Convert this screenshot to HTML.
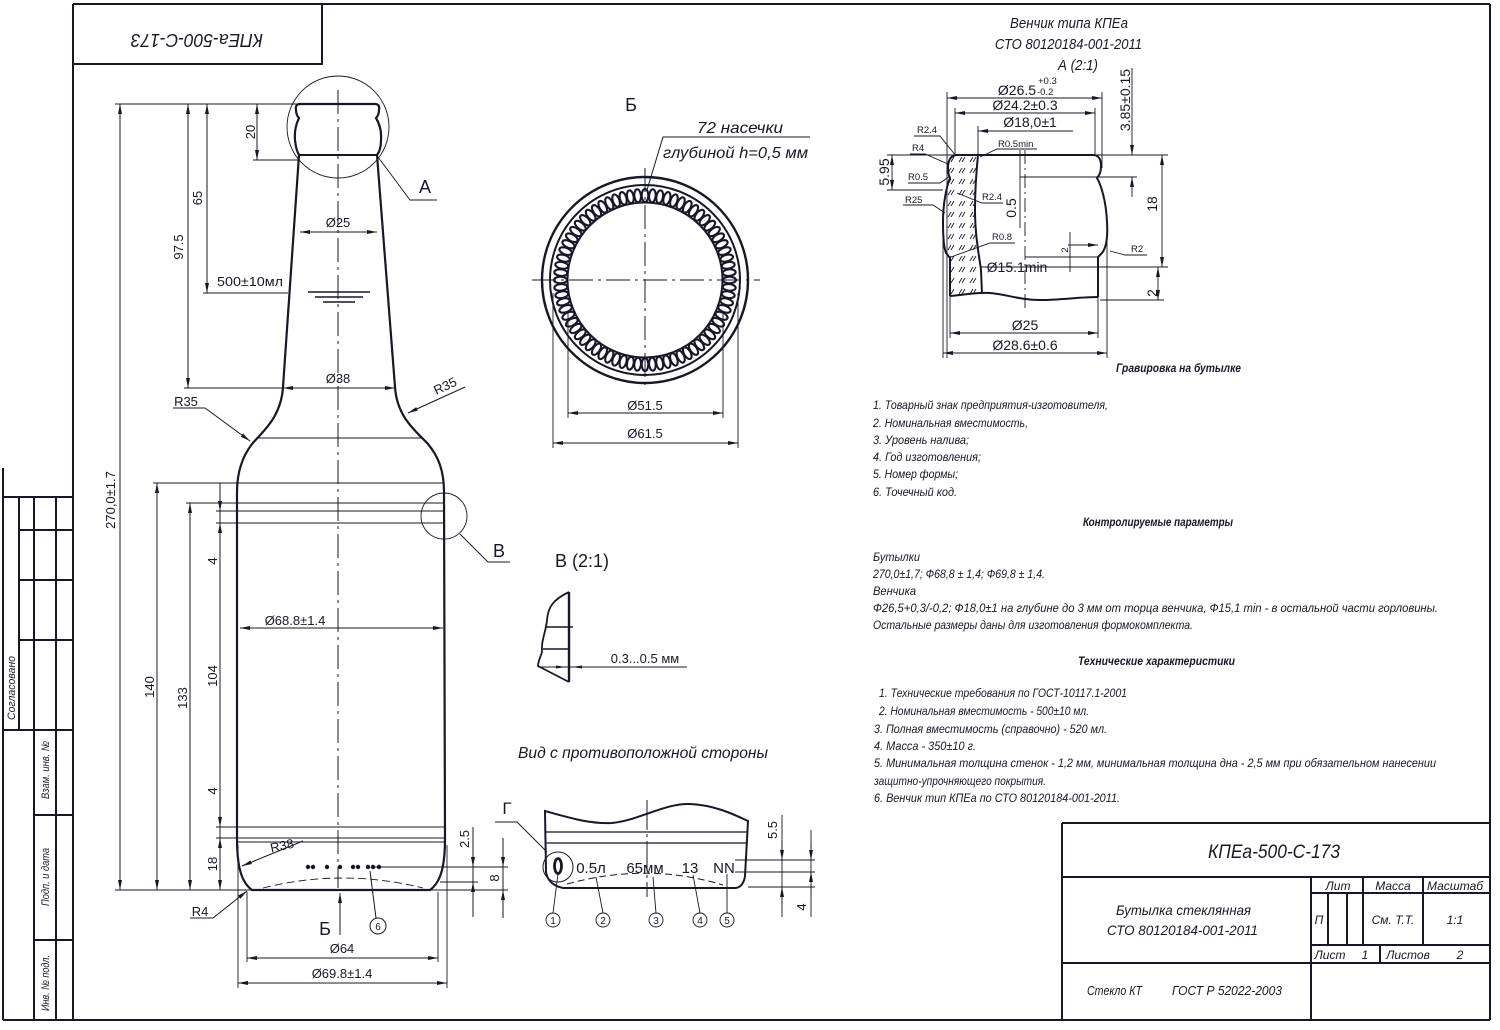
<!DOCTYPE html>
<html><head><meta charset="utf-8">
<style>
html,body{margin:0;padding:0;background:#fff;}
svg{display:block;}
.t{font-family:"Liberation Sans","DejaVu Sans",sans-serif;fill:#17172a;}
.i{font-family:"Liberation Sans","DejaVu Sans",sans-serif;font-style:italic;fill:#17172a;}
</style></head><body>
<svg width="1500" height="1030" viewBox="0 0 1500 1030" xmlns="http://www.w3.org/2000/svg">
<defs>
<marker id="ar" viewBox="0 0 10 4" refX="10" refY="2" markerWidth="10" markerHeight="4" markerUnits="userSpaceOnUse" orient="auto-start-reverse"><path d="M0,0 L10,2 L0,4 Z" fill="#17172a"/></marker>
<pattern id="h" width="11" height="11" patternUnits="userSpaceOnUse"><path d="M2 8 L5 3 M5 8 L8 3" stroke="#17172a" stroke-width="0.9" fill="none"/></pattern>
</defs>
<rect width="1500" height="1030" fill="#fff"/>

<!-- FRAME -->
<g stroke="#17172a" fill="none" stroke-width="2">
<line x1="73" y1="4" x2="1490" y2="4"/>
<line x1="1490" y1="4" x2="1490" y2="1020"/>
<line x1="73" y1="4" x2="73" y2="1020"/>
<line x1="3" y1="1020" x2="1490" y2="1020"/>
<polyline points="73,64 322,64 322,4"/>
<line x1="3" y1="468" x2="3" y2="1020"/>
<line x1="3" y1="497" x2="73" y2="497"/>
<line x1="19" y1="497" x2="19" y2="730"/>
<line x1="34" y1="497" x2="34" y2="1020"/>
<line x1="56" y1="497" x2="56" y2="1020"/>
<line x1="19" y1="530" x2="73" y2="530"/>
<line x1="19" y1="580" x2="73" y2="580"/>
<line x1="19" y1="640" x2="73" y2="640"/>
<line x1="3" y1="730" x2="73" y2="730"/>
<line x1="34" y1="815" x2="73" y2="815"/>
<line x1="34" y1="940" x2="73" y2="940"/>
<line x1="1062" y1="823" x2="1490" y2="823"/>
<line x1="1062" y1="823" x2="1062" y2="1020"/>
<line x1="1062" y1="877" x2="1490" y2="877"/>
<line x1="1311" y1="877" x2="1311" y2="1020"/>
<line x1="1062" y1="963" x2="1490" y2="963"/>
<line x1="1311" y1="893" x2="1490" y2="893"/>
<line x1="1311" y1="945" x2="1490" y2="945"/>
<line x1="1328" y1="893" x2="1328" y2="945"/>
<line x1="1347" y1="893" x2="1347" y2="945"/>
<line x1="1363" y1="877" x2="1363" y2="945"/>
<line x1="1423" y1="877" x2="1423" y2="945"/>
<line x1="1380" y1="945" x2="1380" y2="963"/>
</g>

<text class="i" font-size="18" text-anchor="middle" transform="rotate(180 197 40)" x="197" y="46" textLength="132" lengthAdjust="spacingAndGlyphs">КПЕа-500-С-173</text>
<text class="i" font-size="11" text-anchor="middle" transform="translate(15,688) rotate(-90)" textLength="64" lengthAdjust="spacingAndGlyphs">Согласовано</text>
<text class="i" font-size="11" text-anchor="middle" transform="translate(49,770) rotate(-90)" textLength="58" lengthAdjust="spacingAndGlyphs">Взам. инв. №</text>
<text class="i" font-size="11" text-anchor="middle" transform="translate(49,877) rotate(-90)" textLength="58" lengthAdjust="spacingAndGlyphs">Подп. и дата</text>
<text class="i" font-size="11" text-anchor="middle" transform="translate(49,983) rotate(-90)" textLength="56" lengthAdjust="spacingAndGlyphs">Инв. № подл.</text>

<text class="i" font-size="19" x="1208" y="858" textLength="132" lengthAdjust="spacingAndGlyphs">КПЕа-500-С-173</text>
<text class="i" font-size="14" x="1116" y="915" textLength="135" lengthAdjust="spacingAndGlyphs">Бутылка стеклянная</text>
<text class="i" font-size="14" x="1107" y="935" textLength="151" lengthAdjust="spacingAndGlyphs">СТО 80120184-001-2011</text>
<text class="i" font-size="13" x="1087" y="995" textLength="55" lengthAdjust="spacingAndGlyphs">Стекло КТ</text>
<text class="i" font-size="13" x="1172" y="995" textLength="110" lengthAdjust="spacingAndGlyphs">ГОСТ Р 52022-2003</text>
<text class="i" font-size="12" x="1338" y="890" text-anchor="middle">Лит</text>
<text class="i" font-size="12" x="1393" y="890" text-anchor="middle">Масса</text>
<text class="i" font-size="12" x="1455" y="890" text-anchor="middle">Масштаб</text>
<text class="i" font-size="12" x="1319" y="924" text-anchor="middle">П</text>
<text class="i" font-size="12" x="1393" y="924" text-anchor="middle">См. Т.Т.</text>
<text class="i" font-size="12" x="1455" y="924" text-anchor="middle">1:1</text>
<text class="i" font-size="12" x="1330" y="959" text-anchor="middle">Лист</text>
<text class="i" font-size="12" x="1365" y="959" text-anchor="middle">1</text>
<text class="i" font-size="12" x="1408" y="959" text-anchor="middle">Листов</text>
<text class="i" font-size="12" x="1460" y="959" text-anchor="middle">2</text>

<!-- BOTTLE -->
<g stroke="#17172a" fill="none" stroke-width="2.2">
<path d="M 338 104 L 300 104 Q 295 104 296 110 Q 296 115 299 118 Q 294 128 295 140 Q 296 150 299 155 L 283 387 C 281 418 262 432 252 444 C 242 457 237 472 237 492 L 237 838 C 237 866 241 882 252 890 L 430 890 C 441 882 445 866 445 838 L 444 492 C 444 470 438 456 428 444 C 417 432 397 418 395 387 L 377 155 Q 381 150 381 140 Q 382 128 376 118 Q 379 115 379 110 Q 380 104 375 104 Z"/>
<line x1="299" y1="155" x2="377" y2="155" stroke-width="2"/>
</g>
<g stroke="#17172a" fill="none" stroke-width="0.9">
<line x1="256" y1="438" x2="421" y2="438"/>
<line x1="153" y1="483" x2="444" y2="483"/>
<line x1="186" y1="503" x2="444" y2="503"/>
<line x1="216" y1="511" x2="444" y2="511"/>
<line x1="216" y1="523" x2="444" y2="523"/>
<line x1="216" y1="827" x2="445" y2="827"/>
<line x1="216" y1="838" x2="445" y2="838"/>
<line x1="237" y1="842" x2="445" y2="842"/>
<line x1="373" y1="867" x2="508" y2="867"/>
<line x1="440" y1="882" x2="478" y2="882"/>
<line x1="115" y1="890" x2="252" y2="890"/>
<line x1="430" y1="890" x2="508" y2="890"/>
<line x1="115" y1="104" x2="298" y2="104"/>
<line x1="253" y1="160" x2="299" y2="160"/>
<line x1="203" y1="293" x2="288" y2="293"/>
<line x1="184" y1="388" x2="283" y2="388"/>
<circle cx="338" cy="127" r="51"/>
<circle cx="444" cy="516" r="23"/>
<polyline points="378,157 410,200 437,200"/>
<polyline points="460,534 488,562 510,562"/>
<path d="M 263 888 Q 343 868 423 888" stroke-dasharray="8 4"/>
<line x1="238" y1="845" x2="238" y2="988"/>
<line x1="447" y1="845" x2="447" y2="988"/>
<line x1="247" y1="892" x2="247" y2="962"/>
<line x1="438" y1="892" x2="438" y2="962"/>
</g>
<g stroke="#17172a" stroke-width="1.5">
<line x1="308" y1="292" x2="370" y2="292"/>
<line x1="315" y1="297" x2="363" y2="297"/>
<line x1="323" y1="302" x2="355" y2="302"/>
</g>
<line x1="338" y1="90" x2="338" y2="888" stroke="#17172a" stroke-width="1" stroke-dasharray="24 5 3 5"/>
<g fill="#17172a">
<circle cx="308" cy="867" r="2.2"/><circle cx="313" cy="867" r="2.2"/><circle cx="327" cy="867" r="2.2"/><circle cx="340" cy="867" r="2.2"/><circle cx="353" cy="867" r="2.2"/><circle cx="358" cy="867" r="2.2"/><circle cx="368" cy="867" r="2.2"/><circle cx="373" cy="867" r="2.2"/><circle cx="379" cy="867" r="2.2"/>
</g>
<g stroke="#17172a" fill="none" stroke-width="1">
<line x1="120" y1="104" x2="120" y2="890" marker-start="url(#ar)" marker-end="url(#ar)"/>
<line x1="188" y1="104" x2="188" y2="388" marker-start="url(#ar)" marker-end="url(#ar)"/>
<line x1="207" y1="104" x2="207" y2="293" marker-start="url(#ar)" marker-end="url(#ar)"/>
<line x1="257" y1="104" x2="257" y2="160" marker-start="url(#ar)" marker-end="url(#ar)"/>
<line x1="157" y1="483" x2="157" y2="890" marker-start="url(#ar)" marker-end="url(#ar)"/>
<line x1="190" y1="503" x2="190" y2="890" marker-start="url(#ar)" marker-end="url(#ar)"/>
<line x1="220" y1="483" x2="220" y2="523"/>
<line x1="220" y1="498" x2="220" y2="511" marker-end="url(#ar)"/>
<line x1="220" y1="523" x2="220" y2="827" marker-start="url(#ar)" marker-end="url(#ar)"/>
<line x1="220" y1="827" x2="220" y2="838"/>
<line x1="220" y1="838" x2="220" y2="890" marker-start="url(#ar)" marker-end="url(#ar)"/>
<line x1="300" y1="232" x2="377" y2="232" marker-start="url(#ar)" marker-end="url(#ar)"/>
<line x1="283" y1="388" x2="395" y2="388" marker-start="url(#ar)" marker-end="url(#ar)"/>
<line x1="240" y1="628" x2="443" y2="628" marker-start="url(#ar)" marker-end="url(#ar)"/>
<line x1="247" y1="958" x2="438" y2="958" marker-start="url(#ar)" marker-end="url(#ar)"/>
<line x1="238" y1="983" x2="447" y2="983" marker-start="url(#ar)" marker-end="url(#ar)"/>
<line x1="473" y1="827" x2="473" y2="917"/>
<line x1="473" y1="845" x2="473" y2="867" marker-end="url(#ar)"/>
<line x1="473" y1="905" x2="473" y2="882" marker-end="url(#ar)"/>
<line x1="503" y1="838" x2="503" y2="918"/>
<line x1="503" y1="845" x2="503" y2="867" marker-end="url(#ar)"/>
<line x1="503" y1="910" x2="503" y2="890" marker-end="url(#ar)"/>
<polyline points="173,408 205,408 250,441" marker-end="url(#ar)"/>
<line x1="465" y1="387" x2="408" y2="413" marker-end="url(#ar)"/>
<line x1="303" y1="841" x2="242" y2="866" marker-end="url(#ar)"/>
<polyline points="190,918 213,918 247,891" marker-end="url(#ar)"/>
<line x1="340" y1="935" x2="340" y2="893" marker-end="url(#ar)"/>
<line x1="376" y1="918" x2="370" y2="871"/>
<circle cx="378" cy="926" r="8"/>
<polyline points="495,822 517,822 547,852"/>
</g>
<g class="t" font-size="13">
<text x="338" y="227" text-anchor="middle">Ø25</text>
<text x="250" y="286" text-anchor="middle" textLength="66" lengthAdjust="spacingAndGlyphs">500±10мл</text>
<text x="338" y="383" text-anchor="middle">Ø38</text>
<text x="186" y="406" text-anchor="middle">R35</text>
<text transform="translate(447,390) rotate(-25)" text-anchor="middle">R35</text>
<text x="295" y="625" text-anchor="middle">Ø68.8±1.4</text>
<text transform="translate(283,850) rotate(-13)" text-anchor="middle">R38</text>
<text x="200" y="916" text-anchor="middle">R4</text>
<text x="342" y="953" text-anchor="middle">Ø64</text>
<text x="342" y="978" text-anchor="middle">Ø69.8±1.4</text>
<text x="378" y="930" text-anchor="middle" font-size="10">6</text>
<text transform="translate(115,500) rotate(-90)" text-anchor="middle">270,0±1.7</text>
<text transform="translate(183,247) rotate(-90)" text-anchor="middle">97.5</text>
<text transform="translate(202,198) rotate(-90)" text-anchor="middle">65</text>
<text transform="translate(255,132) rotate(-90)" text-anchor="middle">20</text>
<text transform="translate(154,687) rotate(-90)" text-anchor="middle">140</text>
<text transform="translate(187,698) rotate(-90)" text-anchor="middle">133</text>
<text transform="translate(217,561) rotate(-90)" text-anchor="middle">4</text>
<text transform="translate(217,676) rotate(-90)" text-anchor="middle">104</text>
<text transform="translate(217,791) rotate(-90)" text-anchor="middle">4</text>
<text transform="translate(217,864) rotate(-90)" text-anchor="middle">18</text>
<text transform="translate(469,839) rotate(-90)" text-anchor="middle">2.5</text>
<text transform="translate(499,878) rotate(-90)" text-anchor="middle">8</text>
<text x="425" y="193" text-anchor="middle" font-size="18">А</text>
<text x="499" y="557" text-anchor="middle" font-size="18">В</text>
<text x="325" y="935" text-anchor="middle" font-size="18">Б</text>
<text x="507" y="814" text-anchor="middle" font-size="17">Г</text>
</g>

<!-- SECTION Б -->
<text class="t" x="631" y="111" font-size="18" text-anchor="middle">Б</text>
<text class="i" x="697" y="133" font-size="16" textLength="86" lengthAdjust="spacingAndGlyphs">72 насечки</text>
<text class="i" x="663" y="158" font-size="16" textLength="145" lengthAdjust="spacingAndGlyphs">глубиной h=0,5 мм</text>
<g stroke="#17172a" fill="none">
<polyline points="810,137 663,137 647,190" stroke-width="1"/>
<circle cx="645" cy="280" r="103" stroke-width="2.4"/>
<circle cx="645" cy="280" r="95" stroke-width="2"/>
<circle cx="645" cy="280" r="77.5" stroke-width="2"/>
<g stroke-width="2.1">
<ellipse cx="645" cy="195.5" rx="3.3" ry="6.5" transform="rotate(0 645 280)"/>
<ellipse cx="645" cy="195.5" rx="3.3" ry="6.5" transform="rotate(5 645 280)"/>
<ellipse cx="645" cy="195.5" rx="3.3" ry="6.5" transform="rotate(10 645 280)"/>
<ellipse cx="645" cy="195.5" rx="3.3" ry="6.5" transform="rotate(15 645 280)"/>
<ellipse cx="645" cy="195.5" rx="3.3" ry="6.5" transform="rotate(20 645 280)"/>
<ellipse cx="645" cy="195.5" rx="3.3" ry="6.5" transform="rotate(25 645 280)"/>
<ellipse cx="645" cy="195.5" rx="3.3" ry="6.5" transform="rotate(30 645 280)"/>
<ellipse cx="645" cy="195.5" rx="3.3" ry="6.5" transform="rotate(35 645 280)"/>
<ellipse cx="645" cy="195.5" rx="3.3" ry="6.5" transform="rotate(40 645 280)"/>
<ellipse cx="645" cy="195.5" rx="3.3" ry="6.5" transform="rotate(45 645 280)"/>
<ellipse cx="645" cy="195.5" rx="3.3" ry="6.5" transform="rotate(50 645 280)"/>
<ellipse cx="645" cy="195.5" rx="3.3" ry="6.5" transform="rotate(55 645 280)"/>
<ellipse cx="645" cy="195.5" rx="3.3" ry="6.5" transform="rotate(60 645 280)"/>
<ellipse cx="645" cy="195.5" rx="3.3" ry="6.5" transform="rotate(65 645 280)"/>
<ellipse cx="645" cy="195.5" rx="3.3" ry="6.5" transform="rotate(70 645 280)"/>
<ellipse cx="645" cy="195.5" rx="3.3" ry="6.5" transform="rotate(75 645 280)"/>
<ellipse cx="645" cy="195.5" rx="3.3" ry="6.5" transform="rotate(80 645 280)"/>
<ellipse cx="645" cy="195.5" rx="3.3" ry="6.5" transform="rotate(85 645 280)"/>
<ellipse cx="645" cy="195.5" rx="3.3" ry="6.5" transform="rotate(90 645 280)"/>
<ellipse cx="645" cy="195.5" rx="3.3" ry="6.5" transform="rotate(95 645 280)"/>
<ellipse cx="645" cy="195.5" rx="3.3" ry="6.5" transform="rotate(100 645 280)"/>
<ellipse cx="645" cy="195.5" rx="3.3" ry="6.5" transform="rotate(105 645 280)"/>
<ellipse cx="645" cy="195.5" rx="3.3" ry="6.5" transform="rotate(110 645 280)"/>
<ellipse cx="645" cy="195.5" rx="3.3" ry="6.5" transform="rotate(115 645 280)"/>
<ellipse cx="645" cy="195.5" rx="3.3" ry="6.5" transform="rotate(120 645 280)"/>
<ellipse cx="645" cy="195.5" rx="3.3" ry="6.5" transform="rotate(125 645 280)"/>
<ellipse cx="645" cy="195.5" rx="3.3" ry="6.5" transform="rotate(130 645 280)"/>
<ellipse cx="645" cy="195.5" rx="3.3" ry="6.5" transform="rotate(135 645 280)"/>
<ellipse cx="645" cy="195.5" rx="3.3" ry="6.5" transform="rotate(140 645 280)"/>
<ellipse cx="645" cy="195.5" rx="3.3" ry="6.5" transform="rotate(145 645 280)"/>
<ellipse cx="645" cy="195.5" rx="3.3" ry="6.5" transform="rotate(150 645 280)"/>
<ellipse cx="645" cy="195.5" rx="3.3" ry="6.5" transform="rotate(155 645 280)"/>
<ellipse cx="645" cy="195.5" rx="3.3" ry="6.5" transform="rotate(160 645 280)"/>
<ellipse cx="645" cy="195.5" rx="3.3" ry="6.5" transform="rotate(165 645 280)"/>
<ellipse cx="645" cy="195.5" rx="3.3" ry="6.5" transform="rotate(170 645 280)"/>
<ellipse cx="645" cy="195.5" rx="3.3" ry="6.5" transform="rotate(175 645 280)"/>
<ellipse cx="645" cy="195.5" rx="3.3" ry="6.5" transform="rotate(180 645 280)"/>
<ellipse cx="645" cy="195.5" rx="3.3" ry="6.5" transform="rotate(185 645 280)"/>
<ellipse cx="645" cy="195.5" rx="3.3" ry="6.5" transform="rotate(190 645 280)"/>
<ellipse cx="645" cy="195.5" rx="3.3" ry="6.5" transform="rotate(195 645 280)"/>
<ellipse cx="645" cy="195.5" rx="3.3" ry="6.5" transform="rotate(200 645 280)"/>
<ellipse cx="645" cy="195.5" rx="3.3" ry="6.5" transform="rotate(205 645 280)"/>
<ellipse cx="645" cy="195.5" rx="3.3" ry="6.5" transform="rotate(210 645 280)"/>
<ellipse cx="645" cy="195.5" rx="3.3" ry="6.5" transform="rotate(215 645 280)"/>
<ellipse cx="645" cy="195.5" rx="3.3" ry="6.5" transform="rotate(220 645 280)"/>
<ellipse cx="645" cy="195.5" rx="3.3" ry="6.5" transform="rotate(225 645 280)"/>
<ellipse cx="645" cy="195.5" rx="3.3" ry="6.5" transform="rotate(230 645 280)"/>
<ellipse cx="645" cy="195.5" rx="3.3" ry="6.5" transform="rotate(235 645 280)"/>
<ellipse cx="645" cy="195.5" rx="3.3" ry="6.5" transform="rotate(240 645 280)"/>
<ellipse cx="645" cy="195.5" rx="3.3" ry="6.5" transform="rotate(245 645 280)"/>
<ellipse cx="645" cy="195.5" rx="3.3" ry="6.5" transform="rotate(250 645 280)"/>
<ellipse cx="645" cy="195.5" rx="3.3" ry="6.5" transform="rotate(255 645 280)"/>
<ellipse cx="645" cy="195.5" rx="3.3" ry="6.5" transform="rotate(260 645 280)"/>
<ellipse cx="645" cy="195.5" rx="3.3" ry="6.5" transform="rotate(265 645 280)"/>
<ellipse cx="645" cy="195.5" rx="3.3" ry="6.5" transform="rotate(270 645 280)"/>
<ellipse cx="645" cy="195.5" rx="3.3" ry="6.5" transform="rotate(275 645 280)"/>
<ellipse cx="645" cy="195.5" rx="3.3" ry="6.5" transform="rotate(280 645 280)"/>
<ellipse cx="645" cy="195.5" rx="3.3" ry="6.5" transform="rotate(285 645 280)"/>
<ellipse cx="645" cy="195.5" rx="3.3" ry="6.5" transform="rotate(290 645 280)"/>
<ellipse cx="645" cy="195.5" rx="3.3" ry="6.5" transform="rotate(295 645 280)"/>
<ellipse cx="645" cy="195.5" rx="3.3" ry="6.5" transform="rotate(300 645 280)"/>
<ellipse cx="645" cy="195.5" rx="3.3" ry="6.5" transform="rotate(305 645 280)"/>
<ellipse cx="645" cy="195.5" rx="3.3" ry="6.5" transform="rotate(310 645 280)"/>
<ellipse cx="645" cy="195.5" rx="3.3" ry="6.5" transform="rotate(315 645 280)"/>
<ellipse cx="645" cy="195.5" rx="3.3" ry="6.5" transform="rotate(320 645 280)"/>
<ellipse cx="645" cy="195.5" rx="3.3" ry="6.5" transform="rotate(325 645 280)"/>
<ellipse cx="645" cy="195.5" rx="3.3" ry="6.5" transform="rotate(330 645 280)"/>
<ellipse cx="645" cy="195.5" rx="3.3" ry="6.5" transform="rotate(335 645 280)"/>
<ellipse cx="645" cy="195.5" rx="3.3" ry="6.5" transform="rotate(340 645 280)"/>
<ellipse cx="645" cy="195.5" rx="3.3" ry="6.5" transform="rotate(345 645 280)"/>
<ellipse cx="645" cy="195.5" rx="3.3" ry="6.5" transform="rotate(350 645 280)"/>
<ellipse cx="645" cy="195.5" rx="3.3" ry="6.5" transform="rotate(355 645 280)"/>
</g>
<g stroke-width="1" stroke-dasharray="24 5 3 5">
<line x1="532" y1="280" x2="760" y2="280"/>
<line x1="645" y1="168" x2="645" y2="390"/>
</g>
<g stroke-width="0.9">
<line x1="553" y1="293" x2="553" y2="448"/>
<line x1="568" y1="313" x2="568" y2="418"/>
<line x1="723" y1="313" x2="723" y2="418"/>
<line x1="738" y1="293" x2="738" y2="448"/>
<line x1="568" y1="413" x2="723" y2="413" marker-start="url(#ar)" marker-end="url(#ar)"/>
<line x1="553" y1="443" x2="738" y2="443" marker-start="url(#ar)" marker-end="url(#ar)"/>
</g>
</g>
<text class="t" x="645" y="410" font-size="13" text-anchor="middle">Ø51.5</text>
<text class="t" x="645" y="438" font-size="13" text-anchor="middle">Ø61.5</text>

<!-- DETAIL В -->
<text class="t" x="582" y="567" font-size="18" text-anchor="middle">В (2:1)</text>
<g stroke="#17172a" fill="none">
<path d="M 569 592 C 552 600 548 608 547 620 C 546 632 541 640 542 652 C 540 658 538 662 538 666 L 569 682" stroke-width="1.8"/>
<line x1="569" y1="592" x2="569" y2="682" stroke-width="2.4"/>
<line x1="546" y1="627" x2="573" y2="627" stroke-width="1.5"/>
<line x1="543" y1="649" x2="569" y2="649" stroke-width="1.5"/>
<line x1="538" y1="667" x2="687" y2="667" stroke-width="1"/>
</g>
<path d="M556 665.5 L566 667 L556 668.5 Z M582 665.5 L572 667 L582 668.5 Z" fill="#17172a"/>
<text class="t" x="645" y="663" font-size="13" text-anchor="middle">0.3...0.5 мм</text>

<!-- OPPOSITE SIDE VIEW -->
<text class="i" x="518" y="758" font-size="16" textLength="250" lengthAdjust="spacingAndGlyphs">Вид с противоположной стороны</text>
<g stroke="#17172a" fill="none">
<path d="M 545 811 C 570 818 590 824 612 823 C 640 820 665 803 690 804 C 715 805 735 815 748 821 L 745 876 C 744 883 741 887 736 888 L 563 888 C 553 886 547 880 546 872 Z" stroke-width="2"/>
<line x1="545" y1="832" x2="748" y2="832" stroke-width="1.2"/>
<line x1="545" y1="843" x2="747" y2="843" stroke-width="1.2"/>
<path d="M 567 884 Q 647 862 723 885" stroke-width="1" stroke-dasharray="7 4"/>
<line x1="647" y1="800" x2="647" y2="897" stroke-width="1" stroke-dasharray="30 4 3 4"/>
<circle cx="558" cy="867" r="15" stroke-width="1"/>
<ellipse cx="558" cy="866" rx="3.5" ry="7.5" stroke-width="2.8"/>
<g stroke-width="0.9">
<line x1="735" y1="860" x2="815" y2="860"/>
<line x1="735" y1="872" x2="815" y2="872"/>
<line x1="748" y1="887" x2="815" y2="887"/>
<line x1="782" y1="815" x2="782" y2="917"/>
<line x1="782" y1="840" x2="782" y2="860" marker-end="url(#ar)"/>
<line x1="782" y1="905" x2="782" y2="887" marker-end="url(#ar)"/>
<line x1="811" y1="830" x2="811" y2="917"/>
<line x1="811" y1="842" x2="811" y2="860" marker-end="url(#ar)"/>
<line x1="811" y1="895" x2="811" y2="872" marker-end="url(#ar)"/>
<circle cx="553" cy="920" r="7"/>
<circle cx="603" cy="920" r="7"/>
<circle cx="656" cy="920" r="7"/>
<circle cx="700" cy="920" r="7"/>
<circle cx="727" cy="920" r="7"/>
<line x1="553" y1="913" x2="558" y2="874"/>
<line x1="603" y1="913" x2="596" y2="877"/>
<line x1="656" y1="913" x2="653" y2="877"/>
<line x1="700" y1="913" x2="693" y2="875"/>
<line x1="727" y1="913" x2="727" y2="874"/>
</g>
</g>
<g class="t" font-size="15" text-anchor="middle">
<text x="591" y="873">0.5л</text>
<text x="645" y="873">65мм</text>
<text x="690" y="873">13</text>
<text x="724" y="873">NN</text>
</g>
<g class="t" font-size="10" text-anchor="middle">
<text x="553" y="924">1</text>
<text x="603" y="924">2</text>
<text x="656" y="924">3</text>
<text x="700" y="924">4</text>
<text x="727" y="924">5</text>
</g>
<text class="t" font-size="13" text-anchor="middle" transform="translate(777,830) rotate(-90)">5.5</text>
<text class="t" font-size="13" text-anchor="middle" transform="translate(806,907) rotate(-90)">4</text>

<!-- DETAIL A -->
<text class="i" x="1010" y="28" font-size="15" textLength="118" lengthAdjust="spacingAndGlyphs">Венчик типа КПЕа</text>
<text class="i" x="995" y="49" font-size="15" textLength="147" lengthAdjust="spacingAndGlyphs">СТО 80120184-001-2011</text>
<text class="i" x="1058" y="70" font-size="15" textLength="40" lengthAdjust="spacingAndGlyphs">А (2:1)</text>

<path d="M 956 155 L 978 155 C 976 175 975 195 975 210 C 975 235 979 255 981 270 L 982 294 C 975 292 965 295 950 296 L 950 258 L 946 253 C 944 248 943 238 943 222 C 943 205 946 188 950 178 C 949 176 948 173 948 168 C 948 161 950 156 956 155 Z" fill="url(#h)" stroke="none"/>
<g stroke="#17172a" fill="none" stroke-width="2">
<path d="M 956 155 L 1093 155 C 1099 155 1101 160 1101 166 C 1101 172 1099 176 1097 178 C 1101 185 1106 200 1107 222 C 1108 238 1106 248 1102 253 L 1098 257 L 1098 297"/>
<path d="M 950 296 C 965 295 975 292 990 293 C 1005 294 1020 300 1040 300 C 1060 300 1080 297 1098 297"/>
<path d="M 956 155 C 950 156 948 161 948 168 C 948 173 949 176 950 178 C 946 188 943 205 943 222 C 943 238 944 248 946 253 L 950 258 L 950 296"/>
<path d="M 978 155 C 976 175 975 195 975 210 C 975 235 979 255 981 270 L 982 294"/>
</g>
<g stroke="#17172a" fill="none" stroke-width="0.9">
<line x1="947" y1="92" x2="947" y2="358"/>
<line x1="955" y1="108" x2="955" y2="155"/>
<line x1="978" y1="126" x2="978" y2="155"/>
<line x1="1102" y1="92" x2="1102" y2="168"/>
<line x1="1095" y1="108" x2="1095" y2="155"/>
<line x1="950" y1="296" x2="950" y2="338"/>
<line x1="1098" y1="297" x2="1098" y2="338"/>
<line x1="943" y1="222" x2="943" y2="358"/>
<line x1="1107" y1="225" x2="1107" y2="358"/>
<line x1="947" y1="98" x2="1102" y2="98" marker-start="url(#ar)" marker-end="url(#ar)"/>
<line x1="955" y1="113" x2="1095" y2="113" marker-start="url(#ar)" marker-end="url(#ar)"/>
<line x1="978" y1="131" x2="1073" y2="131" marker-start="url(#ar)"/>
<line x1="950" y1="333" x2="1098" y2="333" marker-start="url(#ar)" marker-end="url(#ar)"/>
<line x1="943" y1="353" x2="1107" y2="353" marker-start="url(#ar)" marker-end="url(#ar)"/>
<line x1="1093" y1="155" x2="1168" y2="155"/>
<line x1="1020" y1="177" x2="1137" y2="177"/>
<line x1="1132" y1="68" x2="1132" y2="155" marker-end="url(#ar)"/>
<line x1="1132" y1="197" x2="1132" y2="177" marker-end="url(#ar)"/>
<line x1="1162" y1="155" x2="1162" y2="267" marker-start="url(#ar)" marker-end="url(#ar)"/>
<line x1="980" y1="267" x2="1168" y2="267"/>
<line x1="1158" y1="267" x2="1158" y2="300" marker-start="url(#ar)" marker-end="url(#ar)"/>
<line x1="1100" y1="300" x2="1164" y2="300"/>
<line x1="887" y1="155" x2="956" y2="155"/>
<line x1="887" y1="190" x2="943" y2="190"/>
<line x1="892" y1="155" x2="892" y2="190" marker-start="url(#ar)" marker-end="url(#ar)"/>
<line x1="1020" y1="150" x2="1020" y2="228"/>
<line x1="1025" y1="257" x2="1098" y2="257"/>
<line x1="1070" y1="232" x2="1070" y2="272"/>
<line x1="1068" y1="245" x2="1098" y2="245" marker-end="url(#ar)"/>
<line x1="1025" y1="150" x2="1025" y2="312" stroke-dasharray="14 4 2 4"/>
<polyline points="914,136 940,136 956,156"/>
<polyline points="910,154 925,154 948,164"/>
<polyline points="908,183 940,183 950,176"/>
<polyline points="903,205 933,205 945,213"/>
<polyline points="1003,203 982,203 957,193"/>
<polyline points="1015,243 990,243 951,257"/>
<polyline points="1037,149 997,149 980,157"/>
<polyline points="1147,255 1125,255 1110,251"/>
</g>
<g class="t" font-size="14" text-anchor="middle">
<text x="1017" y="95">Ø26.5</text>
<text x="1025" y="110">Ø24.2±0.3</text>
<text x="1030" y="127">Ø18,0±1</text>
<text x="1025" y="330">Ø25</text>
<text x="1025" y="350">Ø28.6±0.6</text>
<text x="1017" y="272">Ø15.1min</text>
<text transform="translate(1130,100) rotate(-90)">3.85±0.15</text>
<text transform="translate(1157,204) rotate(-90)">18</text>
<text transform="translate(1157,293) rotate(-90)">2</text>
<text transform="translate(889,172) rotate(-90)">5.95</text>
<text transform="translate(1016,208) rotate(-90)">0.5</text>
</g>
<g class="t" font-size="9.5">
<text x="1038" y="84">+0.3</text>
<text x="1037" y="95">-0.2</text>
<text x="917" y="133">R2.4</text>
<text x="912" y="151">R4</text>
<text x="908" y="180">R0.5</text>
<text x="905" y="203">R25</text>
<text x="982" y="200">R2.4</text>
<text x="992" y="240">R0.8</text>
<text x="998" y="147">R0.5min</text>
<text x="1131" y="252">R2</text>
<text transform="translate(1068,250) rotate(-90)" text-anchor="middle">2</text>
</g>

<!-- TEXT BLOCK -->
<g class="i" font-size="12">
<text x="1116" y="372" font-weight="bold" textLength="125" lengthAdjust="spacingAndGlyphs">Гравировка на бутылке</text>
<text x="873" y="409" textLength="235" lengthAdjust="spacingAndGlyphs">1. Товарный знак предприятия-изготовителя,</text>
<text x="873" y="427" textLength="155" lengthAdjust="spacingAndGlyphs">2. Номинальная вместимость,</text>
<text x="873" y="444" textLength="96" lengthAdjust="spacingAndGlyphs">3. Уровень налива;</text>
<text x="873" y="461" textLength="108" lengthAdjust="spacingAndGlyphs">4. Год изготовления;</text>
<text x="873" y="478" textLength="85" lengthAdjust="spacingAndGlyphs">5. Номер формы;</text>
<text x="873" y="496" textLength="84" lengthAdjust="spacingAndGlyphs">6. Точечный код.</text>
<text x="1083" y="526" font-weight="bold" textLength="150" lengthAdjust="spacingAndGlyphs">Контролируемые параметры</text>
<text x="873" y="561" textLength="47" lengthAdjust="spacingAndGlyphs">Бутылки</text>
<text x="873" y="578" textLength="172" lengthAdjust="spacingAndGlyphs">270,0±1,7;  Ф68,8 ± 1,4;  Ф69,8 ± 1,4.</text>
<text x="873" y="595" textLength="43" lengthAdjust="spacingAndGlyphs">Венчика</text>
<text x="873" y="612" textLength="565" lengthAdjust="spacingAndGlyphs">Ф26,5+0,3/-0,2;  Ф18,0±1 на глубине до 3 мм от торца венчика,  Ф15,1 min - в остальной части горловины.</text>
<text x="873" y="629" textLength="320" lengthAdjust="spacingAndGlyphs">Остальные размеры даны для изготовления формокомплекта.</text>
<text x="1078" y="665" font-weight="bold" textLength="157" lengthAdjust="spacingAndGlyphs">Технические характеристики</text>
<text x="879" y="697" textLength="248" lengthAdjust="spacingAndGlyphs">1. Технические требования по ГОСТ-10117.1-2001</text>
<text x="879" y="715" textLength="210" lengthAdjust="spacingAndGlyphs">2. Номинальная вместимость - 500±10 мл.</text>
<text x="874" y="733" textLength="233" lengthAdjust="spacingAndGlyphs">3. Полная вместимость (справочно) - 520  мл.</text>
<text x="874" y="750" textLength="102" lengthAdjust="spacingAndGlyphs">4. Масса - 350±10 г.</text>
<text x="874" y="767" textLength="562" lengthAdjust="spacingAndGlyphs">5. Минимальная толщина стенок - 1,2 мм, минимальная толщина дна - 2,5 мм при обязательном нанесении</text>
<text x="874" y="785" textLength="172" lengthAdjust="spacingAndGlyphs">защитно-упрочняющего покрытия.</text>
<text x="874" y="802" textLength="246" lengthAdjust="spacingAndGlyphs">6. Венчик тип КПЕа по СТО 80120184-001-2011.</text>
</g>
</svg>
</body></html>
